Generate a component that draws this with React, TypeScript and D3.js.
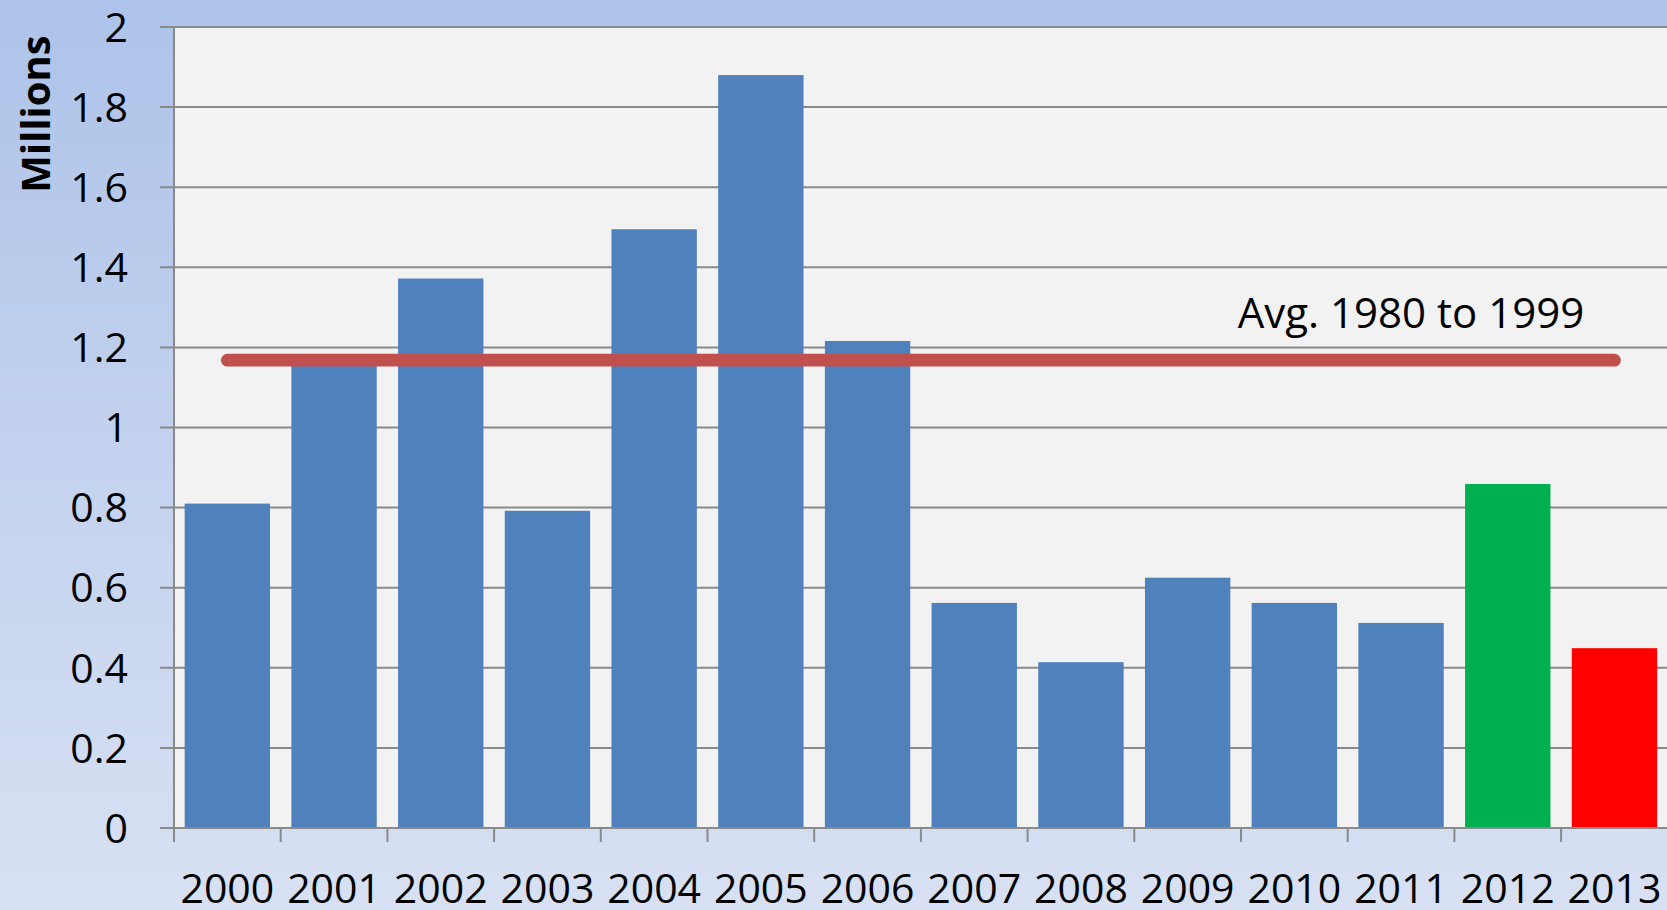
import React from "react";
import * as d3 from "d3";

// Annual totals, in millions
const years = ["2000", "2001", "2002", "2003", "2004", "2005", "2006", "2007", "2008", "2009", "2010", "2011", "2012", "2013"];
const values = [0.81, 1.16, 1.372, 0.792, 1.495, 1.88, 1.216, 0.562, 0.414, 0.625, 0.562, 0.512, 0.859, 0.449];
const barColors = ["#4f81bd", "#4f81bd", "#4f81bd", "#4f81bd", "#4f81bd", "#4f81bd", "#4f81bd", "#4f81bd", "#4f81bd", "#4f81bd", "#4f81bd", "#4f81bd", "#00b050", "#ff0000"];
const yTicks = [0, 0.2, 0.4, 0.6, 0.8, 1, 1.2, 1.4, 1.6, 1.8, 2];
const yTickLabels = ["0", "0.2", "0.4", "0.6", "0.8", "1", "1.2", "1.4", "1.6", "1.8", "2"];
const averageValue = 1.168;
const averageLabel = "Avg. 1980 to 1999";
const yAxisTitle = "Millions";

const W = 1667;
const H = 910;
const plotLeft = 174;
const plotTop = 27;
const plotBottom = 828;
const step = 106.7;
const plotRight = plotLeft + step * years.length;

const font = "'Open Sans', 'Noto Sans', sans-serif";

export default function App() {
  const x = d3
    .scaleBand<string>()
    .domain(years)
    .range([plotLeft, plotRight])
    .paddingInner(0.2)
    .paddingOuter(0.1);
  const y = d3.scaleLinear().domain([0, 2]).range([plotBottom, plotTop]);
  const bw = x.bandwidth();
  const half = (x.step() * 0.2) / 2;

  const avgLine = d3.line<[number, number]>()([
    [(x(years[0]) as number) + bw / 2, y(averageValue)],
    [(x(years[years.length - 1]) as number) + bw / 2, y(averageValue)],
  ]);

  const grid = "#8a8a8a";

  return (
    <svg
      width={W}
      height={H}
      viewBox={`0 0 ${W} ${H}`}
      style={{ position: "absolute", left: 0, top: 0, display: "block" }}
    >
      <defs>
        <linearGradient id="bg" x1="0" y1="0" x2="0" y2="1">
          <stop offset="0" stopColor="#adc3e9" />
          <stop offset="1" stopColor="#d8e1f3" />
        </linearGradient>
      </defs>
      <rect x={0} y={0} width={W} height={H} fill="url(#bg)" />
      <rect x={plotLeft} y={plotTop} width={plotRight - plotLeft} height={plotBottom - plotTop} fill="#f2f2f2" />

      {/* horizontal gridlines with their y ticks */}
      {yTicks.map((t) => (
        <line key={t} x1={plotLeft - 14} x2={plotRight} y1={y(t)} y2={y(t)} stroke={grid} strokeWidth={2} />
      ))}

      {/* bars */}
      {years.map((yr, i) => (
        <rect
          key={yr}
          x={x(yr)}
          y={y(values[i])}
          width={bw}
          height={y(0) - y(values[i])}
          fill={barColors[i]}
        />
      ))}

      {/* axes */}
      <line x1={plotLeft} x2={plotLeft} y1={plotTop} y2={plotBottom + 14} stroke={grid} strokeWidth={2} />
      <line x1={plotLeft - 14} x2={plotRight} y1={plotBottom} y2={plotBottom} stroke={grid} strokeWidth={2} />
      {years.map((yr) => (
        <line
          key={"t" + yr}
          x1={(x(yr) as number) - half}
          x2={(x(yr) as number) - half}
          y1={plotBottom}
          y2={plotBottom + 14}
          stroke={grid}
          strokeWidth={2}
        />
      ))}

      {/* 1980-1999 average */}
      <path d={avgLine ?? ""} stroke="#c0504d" strokeWidth={12.7} strokeLinecap="round" fill="none" />
      <text x={1411} y={328} fontFamily={font} fontSize={42} textAnchor="middle" fill="#000">
        {averageLabel}
      </text>

      {/* tick labels */}
      {yTicks.map((t, i) => (
        <text
          key={"yl" + t}
          x={128}
          y={y(t)}
          dy="0.36em"
          fontFamily={font}
          fontSize={41}
          textAnchor="end"
          fill="#000"
        >
          {yTickLabels[i]}
        </text>
      ))}
      {years.map((yr) => (
        <text
          key={"xl" + yr}
          x={(x(yr) as number) + bw / 2}
          y={903}
          fontFamily={font}
          fontSize={41}
          textAnchor="middle"
          fill="#000"
        >
          {yr}
        </text>
      ))}

      <text
        transform={`translate(50, 114) rotate(-90)`}
        fontFamily={font}
        fontSize={40}
        fontWeight="bold"
        textAnchor="middle"
        fill="#000"
      >
        {yAxisTitle}
      </text>
    </svg>
  );
}
